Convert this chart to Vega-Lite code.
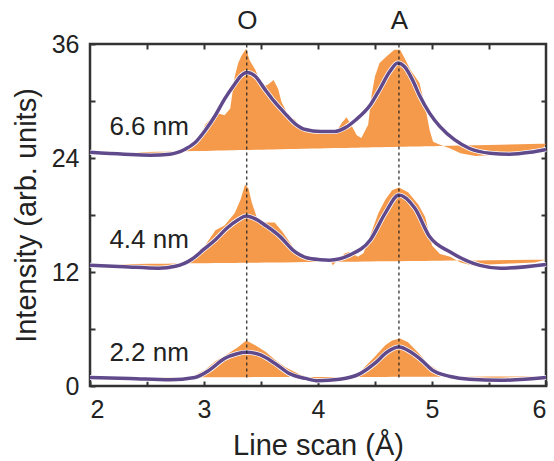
{
  "$schema": "https://vega.github.io/schema/vega-lite/v6.json",
  "width": 456,
  "height": 342,
  "autosize": {"type": "none"},
  "padding": {"left": 90, "top": 44, "right": 8, "bottom": 75},
  "background": "white",
  "config": {
    "font": "Liberation Sans",
    "view": {"stroke": "#333333", "strokeWidth": 2.5},
    "axis": {
      "domain": false,
      "grid": false,
      "tickColor": "#333333",
      "tickWidth": 2,
      "tickSize": -5,
      "labelFont": "Liberation Sans",
      "labelFontSize": 25,
      "labelColor": "#222222",
      "titleFont": "Liberation Sans",
      "titleFontWeight": "normal",
      "titleColor": "#222222",
      "titleFontSize": 29
    }
  },
  "datasets": {
    "raw": [
      {"film": "6.6 nm", "scan": 2.0, "intensity": 24.5, "base": 24.5},
      {"film": "6.6 nm", "scan": 2.1, "intensity": 24.6, "base": 24.53},
      {"film": "6.6 nm", "scan": 2.2, "intensity": 24.4, "base": 24.55},
      {"film": "6.6 nm", "scan": 2.3, "intensity": 24.5, "base": 24.58},
      {"film": "6.6 nm", "scan": 2.4, "intensity": 24.6, "base": 24.6},
      {"film": "6.6 nm", "scan": 2.5, "intensity": 24.4, "base": 24.63},
      {"film": "6.6 nm", "scan": 2.6, "intensity": 24.1, "base": 24.65},
      {"film": "6.6 nm", "scan": 2.66, "intensity": 24.2, "base": 24.67},
      {"film": "6.6 nm", "scan": 2.75, "intensity": 24.5, "base": 24.69},
      {"film": "6.6 nm", "scan": 2.83, "intensity": 24.8, "base": 24.71},
      {"film": "6.6 nm", "scan": 2.92, "intensity": 25.6, "base": 24.73},
      {"film": "6.6 nm", "scan": 2.96, "intensity": 25.9, "base": 24.74},
      {"film": "6.6 nm", "scan": 3.01, "intensity": 27.5, "base": 24.75},
      {"film": "6.6 nm", "scan": 3.07, "intensity": 28.3, "base": 24.77},
      {"film": "6.6 nm", "scan": 3.12, "intensity": 28.7, "base": 24.78},
      {"film": "6.6 nm", "scan": 3.18, "intensity": 28.5, "base": 24.8},
      {"film": "6.6 nm", "scan": 3.23, "intensity": 29.2, "base": 24.81},
      {"film": "6.6 nm", "scan": 3.27, "intensity": 32.6, "base": 24.82},
      {"film": "6.6 nm", "scan": 3.3, "intensity": 34.0, "base": 24.83},
      {"film": "6.6 nm", "scan": 3.33, "intensity": 34.8, "base": 24.83},
      {"film": "6.6 nm", "scan": 3.37, "intensity": 35.5, "base": 24.84},
      {"film": "6.6 nm", "scan": 3.4, "intensity": 34.3, "base": 24.85},
      {"film": "6.6 nm", "scan": 3.45, "intensity": 33.3, "base": 24.86},
      {"film": "6.6 nm", "scan": 3.51, "intensity": 31.5, "base": 24.88},
      {"film": "6.6 nm", "scan": 3.56, "intensity": 31.7, "base": 24.89},
      {"film": "6.6 nm", "scan": 3.61, "intensity": 32.2, "base": 24.9},
      {"film": "6.6 nm", "scan": 3.65, "intensity": 31.3, "base": 24.91},
      {"film": "6.6 nm", "scan": 3.68, "intensity": 29.9, "base": 24.92},
      {"film": "6.6 nm", "scan": 3.74, "intensity": 28.5, "base": 24.94},
      {"film": "6.6 nm", "scan": 3.8, "intensity": 28.0, "base": 24.95},
      {"film": "6.6 nm", "scan": 3.87, "intensity": 26.9, "base": 24.97},
      {"film": "6.6 nm", "scan": 3.95, "intensity": 26.8, "base": 24.99},
      {"film": "6.6 nm", "scan": 4.02, "intensity": 26.9, "base": 25.01},
      {"film": "6.6 nm", "scan": 4.06, "intensity": 26.9, "base": 25.02},
      {"film": "6.6 nm", "scan": 4.15, "intensity": 26.6, "base": 25.04},
      {"film": "6.6 nm", "scan": 4.21, "intensity": 27.7, "base": 25.05},
      {"film": "6.6 nm", "scan": 4.25, "intensity": 28.3, "base": 25.06},
      {"film": "6.6 nm", "scan": 4.3, "intensity": 27.3, "base": 25.08},
      {"film": "6.6 nm", "scan": 4.34, "intensity": 26.4, "base": 25.09},
      {"film": "6.6 nm", "scan": 4.38, "intensity": 26.1, "base": 25.1},
      {"film": "6.6 nm", "scan": 4.44, "intensity": 27.5, "base": 25.11},
      {"film": "6.6 nm", "scan": 4.47, "intensity": 30.6, "base": 25.12},
      {"film": "6.6 nm", "scan": 4.5, "intensity": 32.6, "base": 25.13},
      {"film": "6.6 nm", "scan": 4.54, "intensity": 34.0, "base": 25.14},
      {"film": "6.6 nm", "scan": 4.61, "intensity": 34.8, "base": 25.15},
      {"film": "6.6 nm", "scan": 4.67, "intensity": 35.4, "base": 25.17},
      {"film": "6.6 nm", "scan": 4.72, "intensity": 35.4, "base": 25.18},
      {"film": "6.6 nm", "scan": 4.76, "intensity": 34.5, "base": 25.19},
      {"film": "6.6 nm", "scan": 4.81, "intensity": 33.3, "base": 25.2},
      {"film": "6.6 nm", "scan": 4.85, "intensity": 32.6, "base": 25.21},
      {"film": "6.6 nm", "scan": 4.89, "intensity": 31.9, "base": 25.22},
      {"film": "6.6 nm", "scan": 4.94, "intensity": 29.4, "base": 25.24},
      {"film": "6.6 nm", "scan": 4.98, "intensity": 26.9, "base": 25.25},
      {"film": "6.6 nm", "scan": 5.01, "intensity": 25.7, "base": 25.25},
      {"film": "6.6 nm", "scan": 5.07, "intensity": 25.4, "base": 25.27},
      {"film": "6.6 nm", "scan": 5.16, "intensity": 25.0, "base": 25.29},
      {"film": "6.6 nm", "scan": 5.25, "intensity": 24.5, "base": 25.31},
      {"film": "6.6 nm", "scan": 5.38, "intensity": 24.2, "base": 25.35},
      {"film": "6.6 nm", "scan": 5.5, "intensity": 24.3, "base": 25.38},
      {"film": "6.6 nm", "scan": 5.6, "intensity": 24.4, "base": 25.4},
      {"film": "6.6 nm", "scan": 5.77, "intensity": 24.4, "base": 25.44},
      {"film": "6.6 nm", "scan": 5.95, "intensity": 24.6, "base": 25.49},
      {"film": "6.6 nm", "scan": 6.0, "intensity": 25.5, "base": 25.5},

      {"film": "4.4 nm", "scan": 2.0, "intensity": 12.8, "base": 12.8},
      {"film": "4.4 nm", "scan": 2.1, "intensity": 12.7, "base": 12.81},
      {"film": "4.4 nm", "scan": 2.2, "intensity": 12.6, "base": 12.83},
      {"film": "4.4 nm", "scan": 2.3, "intensity": 12.7, "base": 12.84},
      {"film": "4.4 nm", "scan": 2.4, "intensity": 12.6, "base": 12.85},
      {"film": "4.4 nm", "scan": 2.53, "intensity": 12.5, "base": 12.87},
      {"film": "4.4 nm", "scan": 2.6, "intensity": 12.3, "base": 12.88},
      {"film": "4.4 nm", "scan": 2.66, "intensity": 12.2, "base": 12.88},
      {"film": "4.4 nm", "scan": 2.75, "intensity": 12.5, "base": 12.89},
      {"film": "4.4 nm", "scan": 2.83, "intensity": 12.9, "base": 12.9},
      {"film": "4.4 nm", "scan": 2.88, "intensity": 13.3, "base": 12.91},
      {"film": "4.4 nm", "scan": 2.95, "intensity": 14.0, "base": 12.92},
      {"film": "4.4 nm", "scan": 3.01, "intensity": 14.8, "base": 12.93},
      {"film": "4.4 nm", "scan": 3.1, "intensity": 16.4, "base": 12.94},
      {"film": "4.4 nm", "scan": 3.18, "intensity": 16.9, "base": 12.95},
      {"film": "4.4 nm", "scan": 3.27, "intensity": 18.2, "base": 12.96},
      {"film": "4.4 nm", "scan": 3.32, "intensity": 19.6, "base": 12.97},
      {"film": "4.4 nm", "scan": 3.36, "intensity": 21.2, "base": 12.97},
      {"film": "4.4 nm", "scan": 3.39, "intensity": 20.8, "base": 12.97},
      {"film": "4.4 nm", "scan": 3.42, "intensity": 19.3, "base": 12.98},
      {"film": "4.4 nm", "scan": 3.47, "intensity": 17.5, "base": 12.98},
      {"film": "4.4 nm", "scan": 3.54, "intensity": 17.2, "base": 12.99},
      {"film": "4.4 nm", "scan": 3.62, "intensity": 17.2, "base": 13.0},
      {"film": "4.4 nm", "scan": 3.69, "intensity": 16.2, "base": 13.01},
      {"film": "4.4 nm", "scan": 3.8, "intensity": 14.3, "base": 13.03},
      {"film": "4.4 nm", "scan": 3.89, "intensity": 13.6, "base": 13.04},
      {"film": "4.4 nm", "scan": 4.02, "intensity": 13.2, "base": 13.05},
      {"film": "4.4 nm", "scan": 4.1, "intensity": 13.4, "base": 13.06},
      {"film": "4.4 nm", "scan": 4.13, "intensity": 12.7, "base": 13.07},
      {"film": "4.4 nm", "scan": 4.2, "intensity": 13.6, "base": 13.08},
      {"film": "4.4 nm", "scan": 4.24, "intensity": 14.0, "base": 13.08},
      {"film": "4.4 nm", "scan": 4.28, "intensity": 14.1, "base": 13.09},
      {"film": "4.4 nm", "scan": 4.35, "intensity": 13.6, "base": 13.09},
      {"film": "4.4 nm", "scan": 4.4, "intensity": 14.0, "base": 13.1},
      {"film": "4.4 nm", "scan": 4.46, "intensity": 15.9, "base": 13.11},
      {"film": "4.4 nm", "scan": 4.53, "intensity": 18.2, "base": 13.12},
      {"film": "4.4 nm", "scan": 4.59, "intensity": 19.6, "base": 13.12},
      {"film": "4.4 nm", "scan": 4.65, "intensity": 20.6, "base": 13.13},
      {"film": "4.4 nm", "scan": 4.71, "intensity": 20.9, "base": 13.14},
      {"film": "4.4 nm", "scan": 4.79, "intensity": 20.4, "base": 13.15},
      {"film": "4.4 nm", "scan": 4.88, "intensity": 19.1, "base": 13.16},
      {"film": "4.4 nm", "scan": 4.94, "intensity": 17.8, "base": 13.17},
      {"film": "4.4 nm", "scan": 5.0, "intensity": 14.8, "base": 13.18},
      {"film": "4.4 nm", "scan": 5.07, "intensity": 13.9, "base": 13.18},
      {"film": "4.4 nm", "scan": 5.16, "intensity": 13.6, "base": 13.2},
      {"film": "4.4 nm", "scan": 5.25, "intensity": 13.0, "base": 13.21},
      {"film": "4.4 nm", "scan": 5.38, "intensity": 12.6, "base": 13.22},
      {"film": "4.4 nm", "scan": 5.5, "intensity": 12.8, "base": 13.24},
      {"film": "4.4 nm", "scan": 5.7, "intensity": 12.9, "base": 13.26},
      {"film": "4.4 nm", "scan": 5.9, "intensity": 13.0, "base": 13.29},
      {"film": "4.4 nm", "scan": 6.0, "intensity": 13.3, "base": 13.3},

      {"film": "2.2 nm", "scan": 2.0, "intensity": 0.9, "base": 0.9},
      {"film": "2.2 nm", "scan": 2.2, "intensity": 0.9, "base": 0.91},
      {"film": "2.2 nm", "scan": 2.4, "intensity": 0.85, "base": 0.91},
      {"film": "2.2 nm", "scan": 2.55, "intensity": 0.7, "base": 0.91},
      {"film": "2.2 nm", "scan": 2.66, "intensity": 0.45, "base": 0.92},
      {"film": "2.2 nm", "scan": 2.75, "intensity": 0.6, "base": 0.92},
      {"film": "2.2 nm", "scan": 2.88, "intensity": 0.9, "base": 0.92},
      {"film": "2.2 nm", "scan": 3.01, "intensity": 1.7, "base": 0.93},
      {"film": "2.2 nm", "scan": 3.1, "intensity": 2.6, "base": 0.93},
      {"film": "2.2 nm", "scan": 3.21, "intensity": 3.4, "base": 0.93},
      {"film": "2.2 nm", "scan": 3.3, "intensity": 4.1, "base": 0.93},
      {"film": "2.2 nm", "scan": 3.37, "intensity": 4.8, "base": 0.93},
      {"film": "2.2 nm", "scan": 3.45, "intensity": 4.3, "base": 0.94},
      {"film": "2.2 nm", "scan": 3.54, "intensity": 3.6, "base": 0.94},
      {"film": "2.2 nm", "scan": 3.62, "intensity": 2.8, "base": 0.94},
      {"film": "2.2 nm", "scan": 3.71, "intensity": 2.0, "base": 0.94},
      {"film": "2.2 nm", "scan": 3.84, "intensity": 1.2, "base": 0.95},
      {"film": "2.2 nm", "scan": 4.0, "intensity": 0.6, "base": 0.95},
      {"film": "2.2 nm", "scan": 4.1, "intensity": 0.5, "base": 0.95},
      {"film": "2.2 nm", "scan": 4.25, "intensity": 0.9, "base": 0.96},
      {"film": "2.2 nm", "scan": 4.35, "intensity": 1.2, "base": 0.96},
      {"film": "2.2 nm", "scan": 4.41, "intensity": 2.0, "base": 0.96},
      {"film": "2.2 nm", "scan": 4.5, "intensity": 3.1, "base": 0.96},
      {"film": "2.2 nm", "scan": 4.59, "intensity": 4.3, "base": 0.96},
      {"film": "2.2 nm", "scan": 4.65, "intensity": 4.8, "base": 0.97},
      {"film": "2.2 nm", "scan": 4.72, "intensity": 5.0, "base": 0.97},
      {"film": "2.2 nm", "scan": 4.79, "intensity": 4.6, "base": 0.97},
      {"film": "2.2 nm", "scan": 4.88, "intensity": 3.5, "base": 0.97},
      {"film": "2.2 nm", "scan": 4.96, "intensity": 2.4, "base": 0.97},
      {"film": "2.2 nm", "scan": 5.07, "intensity": 1.5, "base": 0.98},
      {"film": "2.2 nm", "scan": 5.2, "intensity": 0.8, "base": 0.98},
      {"film": "2.2 nm", "scan": 5.33, "intensity": 0.55, "base": 0.98},
      {"film": "2.2 nm", "scan": 5.5, "intensity": 0.8, "base": 0.99},
      {"film": "2.2 nm", "scan": 5.7, "intensity": 0.9, "base": 0.99},
      {"film": "2.2 nm", "scan": 5.9, "intensity": 0.95, "base": 1.0},
      {"film": "2.2 nm", "scan": 6.0, "intensity": 1.0, "base": 1.0}
    ],
    "fit": [
      {"film": "6.6 nm", "scan": 2.0, "intensity": 24.6},
      {"film": "6.6 nm", "scan": 2.3, "intensity": 24.4},
      {"film": "6.6 nm", "scan": 2.53, "intensity": 24.3},
      {"film": "6.6 nm", "scan": 2.7, "intensity": 24.4},
      {"film": "6.6 nm", "scan": 2.83, "intensity": 24.9},
      {"film": "6.6 nm", "scan": 2.92, "intensity": 25.6},
      {"film": "6.6 nm", "scan": 3.01, "intensity": 26.9},
      {"film": "6.6 nm", "scan": 3.1, "intensity": 28.5},
      {"film": "6.6 nm", "scan": 3.18, "intensity": 30.2},
      {"film": "6.6 nm", "scan": 3.27, "intensity": 31.8},
      {"film": "6.6 nm", "scan": 3.32, "intensity": 32.6},
      {"film": "6.6 nm", "scan": 3.38, "intensity": 33.0},
      {"film": "6.6 nm", "scan": 3.45, "intensity": 32.6},
      {"film": "6.6 nm", "scan": 3.53, "intensity": 31.3},
      {"film": "6.6 nm", "scan": 3.62, "intensity": 29.9},
      {"film": "6.6 nm", "scan": 3.71, "intensity": 28.7},
      {"film": "6.6 nm", "scan": 3.8, "intensity": 27.6},
      {"film": "6.6 nm", "scan": 3.89, "intensity": 27.0},
      {"film": "6.6 nm", "scan": 4.02, "intensity": 26.8},
      {"film": "6.6 nm", "scan": 4.15, "intensity": 26.8},
      {"film": "6.6 nm", "scan": 4.24, "intensity": 27.2},
      {"film": "6.6 nm", "scan": 4.33, "intensity": 28.0},
      {"film": "6.6 nm", "scan": 4.46, "intensity": 29.6},
      {"film": "6.6 nm", "scan": 4.54, "intensity": 31.2},
      {"film": "6.6 nm", "scan": 4.63, "intensity": 33.1},
      {"film": "6.6 nm", "scan": 4.7, "intensity": 34.0},
      {"film": "6.6 nm", "scan": 4.76, "intensity": 33.6},
      {"film": "6.6 nm", "scan": 4.83, "intensity": 32.2},
      {"film": "6.6 nm", "scan": 4.89, "intensity": 30.6},
      {"film": "6.6 nm", "scan": 4.98, "intensity": 28.7},
      {"film": "6.6 nm", "scan": 5.07, "intensity": 27.3},
      {"film": "6.6 nm", "scan": 5.2, "intensity": 25.9},
      {"film": "6.6 nm", "scan": 5.33, "intensity": 25.0},
      {"film": "6.6 nm", "scan": 5.51, "intensity": 24.5},
      {"film": "6.6 nm", "scan": 5.68, "intensity": 24.4},
      {"film": "6.6 nm", "scan": 5.86, "intensity": 24.6},
      {"film": "6.6 nm", "scan": 6.0, "intensity": 24.9},

      {"film": "4.4 nm", "scan": 2.0, "intensity": 12.7},
      {"film": "4.4 nm", "scan": 2.3, "intensity": 12.55},
      {"film": "4.4 nm", "scan": 2.6, "intensity": 12.4},
      {"film": "4.4 nm", "scan": 2.75, "intensity": 12.6},
      {"film": "4.4 nm", "scan": 2.9, "intensity": 13.4},
      {"film": "4.4 nm", "scan": 3.0, "intensity": 14.4},
      {"film": "4.4 nm", "scan": 3.1, "intensity": 15.4},
      {"film": "4.4 nm", "scan": 3.2, "intensity": 16.6},
      {"film": "4.4 nm", "scan": 3.3, "intensity": 17.5},
      {"film": "4.4 nm", "scan": 3.37, "intensity": 17.9},
      {"film": "4.4 nm", "scan": 3.45, "intensity": 17.6},
      {"film": "4.4 nm", "scan": 3.54, "intensity": 16.9},
      {"film": "4.4 nm", "scan": 3.67, "intensity": 15.7},
      {"film": "4.4 nm", "scan": 3.78, "intensity": 14.3},
      {"film": "4.4 nm", "scan": 3.9, "intensity": 13.5},
      {"film": "4.4 nm", "scan": 4.02, "intensity": 13.3},
      {"film": "4.4 nm", "scan": 4.1, "intensity": 13.25},
      {"film": "4.4 nm", "scan": 4.28, "intensity": 13.8},
      {"film": "4.4 nm", "scan": 4.46, "intensity": 15.4},
      {"film": "4.4 nm", "scan": 4.59, "intensity": 18.2},
      {"film": "4.4 nm", "scan": 4.71, "intensity": 20.1},
      {"film": "4.4 nm", "scan": 4.85, "intensity": 18.7},
      {"film": "4.4 nm", "scan": 4.98, "intensity": 15.7},
      {"film": "4.4 nm", "scan": 5.16, "intensity": 14.1},
      {"film": "4.4 nm", "scan": 5.42, "intensity": 12.7},
      {"film": "4.4 nm", "scan": 5.6, "intensity": 12.4},
      {"film": "4.4 nm", "scan": 6.0, "intensity": 12.8},

      {"film": "2.2 nm", "scan": 2.0, "intensity": 0.9},
      {"film": "2.2 nm", "scan": 2.35, "intensity": 0.8},
      {"film": "2.2 nm", "scan": 2.7, "intensity": 0.65},
      {"film": "2.2 nm", "scan": 2.92, "intensity": 0.9},
      {"film": "2.2 nm", "scan": 3.05, "intensity": 1.7},
      {"film": "2.2 nm", "scan": 3.18, "intensity": 2.9},
      {"film": "2.2 nm", "scan": 3.29, "intensity": 3.4},
      {"film": "2.2 nm", "scan": 3.37, "intensity": 3.55},
      {"film": "2.2 nm", "scan": 3.49, "intensity": 3.3},
      {"film": "2.2 nm", "scan": 3.62, "intensity": 2.4},
      {"film": "2.2 nm", "scan": 3.75, "intensity": 1.3},
      {"film": "2.2 nm", "scan": 3.89, "intensity": 0.8},
      {"film": "2.2 nm", "scan": 4.0, "intensity": 0.55},
      {"film": "2.2 nm", "scan": 4.19, "intensity": 0.7},
      {"film": "2.2 nm", "scan": 4.37, "intensity": 1.3},
      {"film": "2.2 nm", "scan": 4.5, "intensity": 2.4},
      {"film": "2.2 nm", "scan": 4.61, "intensity": 3.6},
      {"film": "2.2 nm", "scan": 4.71, "intensity": 4.1},
      {"film": "2.2 nm", "scan": 4.81, "intensity": 3.6},
      {"film": "2.2 nm", "scan": 4.91, "intensity": 2.7},
      {"film": "2.2 nm", "scan": 5.0, "intensity": 1.7},
      {"film": "2.2 nm", "scan": 5.16, "intensity": 1.0},
      {"film": "2.2 nm", "scan": 5.33, "intensity": 0.7},
      {"film": "2.2 nm", "scan": 5.6, "intensity": 0.6},
      {"film": "2.2 nm", "scan": 6.0, "intensity": 0.9}
    ],
    "peaks": [
      {"peak": "O", "scan": 3.375, "low": 0.9, "high": 36},
      {"peak": "A", "scan": 4.71, "low": 0.9, "high": 36}
    ],
    "films": [
      {"film": "6.6 nm", "scan": 2.17, "intensity": 27.3},
      {"film": "4.4 nm", "scan": 2.17, "intensity": 15.4},
      {"film": "2.2 nm", "scan": 2.17, "intensity": 3.5}
    ]
  },
  "resolve": {"axis": {"x": "independent", "y": "independent"}},
  "layer": [
    {
      "data": {"name": "raw"},
      "mark": {"type": "area", "color": "#F59A4B", "opacity": 1, "interpolate": "linear"},
      "encoding": {
        "x": {
          "field": "scan", "type": "quantitative",
          "scale": {"domain": [2, 6], "nice": false, "zero": false},
          "axis": {
            "orient": "bottom",
            "title": "Line scan (Å)",
            "values": [2, 2.5, 3, 3.5, 4, 4.5, 5, 5.5, 6],
            "labelExpr": "datum.value % 1 === 0 ? format(datum.value, 'd') : ''",
            "labelPadding": 16,
            "titlePadding": 9
          }
        },
        "y": {
          "field": "intensity", "type": "quantitative",
          "scale": {"domain": [0, 36], "nice": false, "zero": false},
          "axis": {
            "orient": "left",
            "title": "Intensity (arb. units)",
            "values": [0, 6, 12, 18, 24, 30, 36],
            "labelExpr": "datum.value % 12 === 0 ? format(datum.value, 'd') : ''",
            "labelPadding": 16,
            "titlePadding": 10
          }
        },
        "y2": {"field": "base"},
        "detail": {"field": "film"}
      }
    },
    {
      "data": {"name": "fit"},
      "mark": {"type": "line", "color": "white", "strokeWidth": 5, "interpolate": "monotone"},
      "encoding": {
        "x": {
          "field": "scan", "type": "quantitative",
          "axis": {
            "orient": "top",
            "title": null,
            "values": [2.5, 3, 3.375, 3.5, 4, 4.5, 4.71, 5, 5.5],
            "labelExpr": "datum.value === 3.375 ? 'O' : datum.value === 4.71 ? 'A' : ''",
            "labelFontSize": 26,
            "labelPadding": 16,
            "tickOpacity": {"condition": {"test": "datum.value === 3.375 || datum.value === 4.71", "value": 0}, "value": 1}
          }
        },
        "y": {
          "field": "intensity", "type": "quantitative",
          "axis": {
            "orient": "right",
            "title": null,
            "values": [6, 12, 18, 24, 30],
            "labels": false
          }
        },
        "detail": {"field": "film"}
      }
    },
    {
      "data": {"name": "fit"},
      "mark": {"type": "line", "color": "#604A8C", "strokeWidth": 3.5, "interpolate": "monotone"},
      "encoding": {
        "x": {"field": "scan", "type": "quantitative", "axis": null},
        "y": {"field": "intensity", "type": "quantitative", "axis": null},
        "detail": {"field": "film"}
      }
    },
    {
      "data": {"name": "peaks"},
      "mark": {"type": "rule", "color": "#222222", "strokeWidth": 1.2, "strokeDash": [3, 3]},
      "encoding": {
        "x": {"field": "scan", "type": "quantitative", "axis": null},
        "y": {"field": "low", "type": "quantitative", "axis": null},
        "y2": {"field": "high"}
      }
    },
    {
      "data": {"name": "films"},
      "mark": {"type": "text", "align": "left", "baseline": "middle", "fontSize": 26, "color": "#222222", "font": "Liberation Sans"},
      "encoding": {
        "x": {"field": "scan", "type": "quantitative", "axis": null},
        "y": {"field": "intensity", "type": "quantitative", "axis": null},
        "text": {"field": "film"}
      }
    }
  ]
}
